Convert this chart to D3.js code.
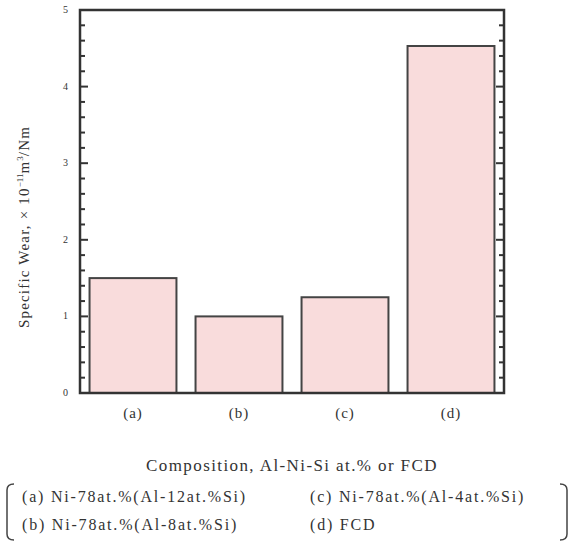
<!DOCTYPE html>
<html>
<head>
<meta charset="utf-8">
<script src="https://cdn.jsdelivr.net/npm/d3@7"></script>
<style>
  body { margin: 0; background: #fff; }
  text { font-family: "Liberation Serif", "DejaVu Serif", serif; fill: #333; }
</style>
</head>
<body>
<div id="chart"></div>
<script>
const categories = ["(a)", "(b)", "(c)", "(d)"];
const wear = [1.50, 1.00, 1.25, 4.53];
const yTicks = [0, 1, 2, 3, 4, 5];
const legendLeft = ["(a) Ni-78at.%(Al-12at.%Si)", "(b) Ni-78at.%(Al-8at.%Si)"];
const legendRight = ["(c) Ni-78at.%(Al-4at.%Si)", "(d) FCD"];

const width = 573, height = 541;
const margin = {top: 10, right: 69, bottom: 148, left: 80};

const svg = d3.select("#chart").append("svg")
    .attr("width", width)
    .attr("height", height);

const x = d3.scaleBand()
    .domain(categories)
    .range([margin.left, width - margin.right])
    .paddingInner(0.18)
    .paddingOuter(0.09);

const y = d3.scaleLinear()
    .domain([0, 5])
    .range([height - margin.bottom, margin.top]);

// bars
svg.append("g").selectAll("rect")
    .data(wear)
    .join("rect")
    .attr("x", (d, i) => x(categories[i]))
    .attr("y", d => y(d))
    .attr("width", x.bandwidth())
    .attr("height", d => y(0) - y(d))
    .attr("fill", "#f9dcdc")
    .attr("stroke", "#444")
    .attr("stroke-width", 2);

// ticks, inward on both sides
const minor = d3.range(0, 5.01, 0.2);
const x0 = margin.left, x1 = width - margin.right;
const ticks = svg.append("g").attr("stroke", "#333");
minor.forEach(v => {
    let major = Math.abs(v - Math.round(v)) < 1e-6;
    let len = major ? 8 : 5;
    ticks.append("line").attr("x1", x0).attr("x2", x0 + len)
        .attr("y1", y(v)).attr("y2", y(v)).attr("stroke-width", 2);
    ticks.append("line").attr("x1", x1).attr("x2", x1 - len)
        .attr("y1", y(v)).attr("y2", y(v)).attr("stroke-width", 2);
});

// frame
svg.append("rect")
    .attr("x", x0).attr("y", margin.top)
    .attr("width", x1 - x0).attr("height", y(0) - margin.top)
    .attr("fill", "none")
    .attr("stroke", "#333")
    .attr("stroke-width", 2.5);

// y tick labels
svg.append("g").selectAll("text")
    .data(yTicks)
    .join("text")
    .attr("x", x0 - 12)
    .attr("y", d => y(d) + 3)
    .attr("text-anchor", "end")
    .attr("font-size", 10)
    .attr("fill", "#555")
    .text(d => d);

// category labels
svg.append("g").selectAll("text")
    .data(categories)
    .join("text")
    .attr("x", d => x(d) + x.bandwidth() / 2)
    .attr("y", 418)
    .attr("text-anchor", "middle")
    .attr("font-size", 15)
    .attr("letter-spacing", 1)
    .text(d => d);

// y title
const yt = svg.append("text")
    .attr("transform", "translate(29,227) rotate(-90)")
    .attr("text-anchor", "middle")
    .attr("font-size", 15)
    .attr("letter-spacing", 1.2);
yt.append("tspan").text("Specific Wear, \u00d7 10");
yt.append("tspan").attr("dy", -6).attr("font-size", 9).attr("letter-spacing", 0).text("\u221211");
yt.append("tspan").attr("dy", 6).text("m");
yt.append("tspan").attr("dy", -6).attr("font-size", 9).attr("letter-spacing", 0).text("3");
yt.append("tspan").attr("dy", 6).text("/Nm");

// x title
svg.append("text")
    .attr("x", (x0 + x1) / 2)
    .attr("y", 471)
    .attr("text-anchor", "middle")
    .attr("font-size", 17)
    .attr("letter-spacing", 1.4)
    .text("Composition, Al-Ni-Si at.% or FCD");

// legend
svg.append("g").selectAll("text")
    .data(legendLeft)
    .join("text")
    .attr("x", 22)
    .attr("y", (d, i) => 502 + i * 28)
    .attr("font-size", 16)
    .attr("letter-spacing", 1.8)
    .text(d => d);
svg.append("g").selectAll("text")
    .data(legendRight)
    .join("text")
    .attr("x", 310)
    .attr("y", (d, i) => 502 + i * 28)
    .attr("font-size", 16)
    .attr("letter-spacing", 1.8)
    .text(d => d);

// brackets
const bracket = svg.append("g").attr("fill", "none").attr("stroke", "#444").attr("stroke-width", 1.5);
bracket.append("path").attr("d", "M14,484 Q7,484 7,490 L7,534 Q7,540 14,540");
bracket.append("path").attr("d", "M560,484 Q567,484 567,490 L567,534 Q567,540 560,540");
</script>
</body>
</html>
